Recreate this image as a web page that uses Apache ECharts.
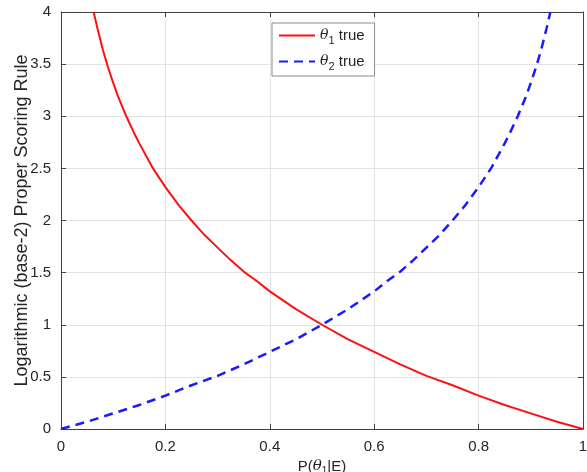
<!DOCTYPE html>
<html>
<head>
<meta charset="utf-8">
<script src="https://cdn.jsdelivr.net/npm/echarts@6/dist/echarts.min.js"></script>
<style>
  html, body { margin: 0; padding: 0; background: #fff; }
  #chart { width: 587px; height: 472px; }
</style>
</head>
<body>
<div id="chart"></div>
<script>
// values
const theta1X = [0.0625, 0.07, 0.075, 0.08, 0.09, 0.1, 0.11, 0.125, 0.14, 0.15, 0.175, 0.2, 0.225, 0.25, 0.275, 0.3, 0.325, 0.35, 0.375, 0.4, 0.45, 0.5, 0.55, 0.6, 0.65, 0.7, 0.75, 0.8, 0.85, 0.9, 0.95, 1]
const theta1Y = [4, 3.84, 3.74, 3.64, 3.47, 3.32, 3.18, 3, 2.84, 2.74, 2.51, 2.32, 2.15, 2, 1.86, 1.74, 1.62, 1.51, 1.42, 1.32, 1.15, 1, 0.86, 0.74, 0.62, 0.51, 0.42, 0.32, 0.23, 0.15, 0.07, 0]
const theta2X = [0, 0.05, 0.1, 0.15, 0.2, 0.25, 0.3, 0.35, 0.4, 0.45, 0.5, 0.55, 0.6, 0.625, 0.65, 0.675, 0.7, 0.725, 0.75, 0.775, 0.8, 0.825, 0.85, 0.86, 0.875, 0.89, 0.9, 0.91, 0.92, 0.925, 0.93, 0.9375]
const theta2Y = [0, 0.07, 0.15, 0.23, 0.32, 0.42, 0.51, 0.62, 0.74, 0.86, 1, 1.15, 1.32, 1.42, 1.51, 1.62, 1.74, 1.86, 2, 2.15, 2.32, 2.51, 2.74, 2.84, 3, 3.18, 3.32, 3.47, 3.64, 3.74, 3.84, 4]
const xTicks = [0, 0.2, 0.4, 0.6, 0.8, 1]
const yTicks = [0, 0.5, 1, 1.5, 2, 2.5, 3, 3.5, 4]

const font = 'Liberation Sans, Arial, Helvetica, sans-serif'
const textColor = '#262626'
const frameColor = '#404040'

const chart = echarts.init(document.getElementById('chart'), null, { renderer: 'canvas' })

function pair(xs, ys) { return xs.map((x, i) => [x, ys[i]]) }

const legendRich = {
  th: { fontFamily: 'DejaVu Serif, serif', fontStyle: 'italic', fontSize: 14, color: textColor },
  sub: { fontSize: 11, color: textColor, padding: [10, 0, 0, 0] },
  t: { fontSize: 15, color: textColor, fontFamily: font }
}

const frameAxis = {
  axisLabel: { show: false },
  splitLine: { show: false },
  axisLine: { show: true, onZero: false, lineStyle: { color: frameColor, width: 1 } },
  axisTick: { show: true, inside: true, length: 5, lineStyle: { color: frameColor } }
}

chart.setOption({
  backgroundColor: '#fff',
  animation: false,
  textStyle: { fontFamily: font },
  grid: { left: 61, right: 4, top: 12, bottom: 43, containLabel: false, outerBoundsMode: 'none' },
  legend: {
    show: true,
    top: 23, left: 272,
    orient: 'vertical',
    itemGap: 8,
    itemWidth: 36, itemHeight: 14,
    padding: [5, 10, 4, 6],
    borderColor: '#8a8a8a', borderWidth: 1,
    backgroundColor: '#fff',
    itemStyle: { opacity: 0 },
    data: ['theta1', 'theta2'],
    formatter: n => n === 'theta1' ? '{th|θ}{sub|1}{t| true}' : '{th|θ}{sub|2}{t| true}',
    textStyle: { rich: legendRich, color: textColor }
  },
  xAxis: [{
    type: 'value', min: 0, max: 1, interval: 0.2,
    name: '{t|P(}{th|θ}{sub|1}{t||E)}',
    nameLocation: 'middle', nameGap: 27,
    nameTextStyle: { rich: { th: { fontFamily: 'DejaVu Serif, serif', fontStyle: 'italic', fontSize: 15, color: textColor }, sub: { fontSize: 10, color: textColor, padding: [9, 0, 0, 0] }, t: { fontSize: 15, color: textColor, fontFamily: font } } },
    axisLabel: { color: textColor, fontSize: 15, margin: 10, formatter: v => String(+v.toFixed(1)) },
    axisLine: { show: true, onZero: false, lineStyle: { color: frameColor, width: 1 } },
    axisTick: { show: true, inside: true, length: 5, lineStyle: { color: frameColor } },
    splitLine: { show: true, lineStyle: { color: '#e3e3e3', width: 1 } }
  }, Object.assign({ type: 'value', min: 0, max: 1, interval: 0.2, position: 'top' }, frameAxis)],
  yAxis: [{
    type: 'value', min: 0, max: 4, interval: 0.5,
    name: 'Logarithmic (base-2) Proper Scoring Rule',
    nameLocation: 'middle', nameGap: 30, nameMoveOverlap: false,
    nameTextStyle: { color: textColor, fontSize: 18, fontFamily: font },
    axisLabel: { color: textColor, fontSize: 15, margin: 10 },
    axisLine: { show: true, onZero: false, lineStyle: { color: frameColor, width: 1 } },
    axisTick: { show: true, inside: true, length: 5, lineStyle: { color: frameColor } },
    splitLine: { show: true, lineStyle: { color: '#e3e3e3', width: 1 } }
  }, Object.assign({ type: 'value', min: 0, max: 4, interval: 0.5, position: 'right' }, frameAxis)],
  series: [
    {
      name: 'theta1', type: 'line', symbol: 'none',
      data: pair(theta1X, theta1Y),
      lineStyle: { color: '#ff1010', width: 2 },
      itemStyle: { color: '#ff1010' }
    },
    {
      name: 'theta2', type: 'line', symbol: 'none',
      data: pair(theta2X, theta2Y),
      lineStyle: { color: '#1a1aff', width: 2.5, type: [9, 6] },
      itemStyle: { color: '#1a1aff' }
    }
  ]
})
</script>
</body>
</html>
